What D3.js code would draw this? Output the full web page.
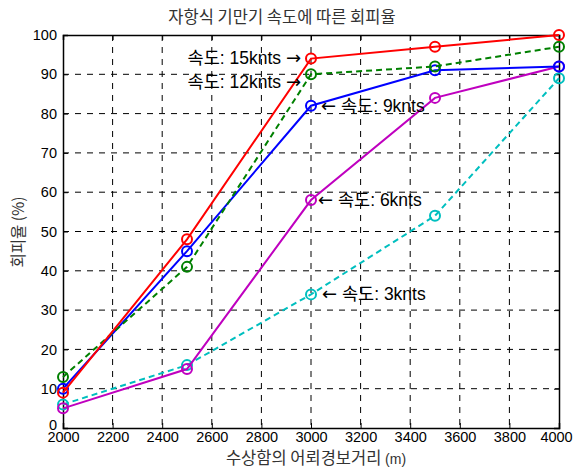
<!DOCTYPE html>
<html><head><meta charset="utf-8">
<script src="https://cdn.jsdelivr.net/npm/d3@7"></script>
<style>body{margin:0;background:#fff}</style>
</head><body><svg id="c" width="574" height="468"></svg>
<script>
const xValues = [2000, 2500, 3000, 3500, 4000];
const s15 = [9, 48, 94, 97, 100];
const s12 = [13, 41, 90, 92, 97];
const s9 = [10, 45, 82, 91, 92];
const s6 = [5, 15, 58, 84, 92];
const s3 = [6, 16, 34, 54, 89];
const xTicks = [2000,2200,2400,2600,2800,3000,3200,3400,3600,3800,4000];
const yTicks = [0,10,20,30,40,50,60,70,80,90,100];
const series = [
  {name:"3knts", vals:s3, color:"#00bfbf", dash:"6,4"},
  {name:"6knts", vals:s6, color:"#bf00bf", dash:null},
  {name:"9knts", vals:s9, color:"#0000ff", dash:null},
  {name:"12knts", vals:s12, color:"#008000", dash:"6,4"},
  {name:"15knts", vals:s15, color:"#ff0000", dash:null}
];
const svg = d3.select("#c");
const L=63,R=559,T=35,B=428;
const x = d3.scaleLinear().domain([2000,4000]).range([L,R]);
const y = d3.scaleLinear().domain([0,100]).range([B,T]);
const font = "'Liberation Sans', Arial, sans-serif";
const kfont = "'Liberation Sans', 'Noto Sans CJK KR', sans-serif";
// grid
const g = svg.append("g");
xTicks.slice(1,-1).forEach(t=>g.append("line").attr("x1",x(t)).attr("x2",x(t)).attr("y1",T).attr("y2",B).attr("stroke","#000").attr("stroke-width",1).attr("stroke-dasharray","6,6"));
yTicks.slice(1,-1).forEach(t=>g.append("line").attr("y1",y(t)).attr("y2",y(t)).attr("x1",L).attr("x2",R).attr("stroke","#000").attr("stroke-width",1).attr("stroke-dasharray","6,6"));
// axes
const xa = svg.append("g").attr("transform",`translate(0,${B})`).call(d3.axisBottom(x).tickValues(xTicks).tickSize(-5).tickPadding(4).tickFormat(d3.format("d")));
const ya = svg.append("g").attr("transform",`translate(${L},0)`).call(d3.axisLeft(y).tickValues(yTicks).tickSize(-5).tickPadding(6));
svg.append("g").attr("transform",`translate(0,${T})`).call(d3.axisTop(x).tickValues(xTicks).tickSize(-5).tickFormat(""));
svg.append("g").attr("transform",`translate(${R},0)`).call(d3.axisRight(y).tickValues(yTicks).tickSize(-5).tickFormat(""));
svg.selectAll(".domain").attr("stroke","#000").attr("stroke-width",1.5);
svg.selectAll(".tick line").attr("stroke","#000");
svg.selectAll(".tick text").attr("font-family",font).attr("font-size","14.5px").attr("fill","#000");
xa.selectAll(".tick text").filter(d=>d===4000).attr("dx","-3px");
ya.selectAll(".tick text").filter(d=>d===0).attr("y",-3);
// lines
const line = d3.line().x((d,i)=>x(xValues[i])).y(d=>y(d));
series.forEach(s=>{
  svg.append("path").datum(s.vals).attr("d",line).attr("fill","none").attr("stroke",s.color).attr("stroke-width",2).attr("stroke-dasharray",s.dash);
  svg.selectAll(null).data(s.vals).enter().append("circle").attr("cx",(d,i)=>x(xValues[i])).attr("cy",d=>y(d)).attr("r",5).attr("fill","none").attr("stroke",s.color).attr("stroke-width",2);
});
// annotations
const ann = [
  {t:"속도: 15knts", arrow:"→", x:3000, y:94, dx:-10, dy:5, a:"end"},
  {t:"속도: 12knts", arrow:"→", x:3000, y:90, dx:-10, dy:14, a:"end"},
  {t:"속도: 9knts", arrow:"←", x:3000, y:82, dx:10, dy:6, a:"start"},
  {t:"속도: 6knts", arrow:"←", x:3000, y:58, dx:7, dy:6, a:"start"},
  {t:"속도: 3knts", arrow:"←", x:3000, y:34, dx:11, dy:6, a:"start"}
];
ann.forEach(a=>{
  const tx = svg.append("text").attr("x",x(a.x)+a.dx).attr("y",y(a.y)+a.dy).attr("text-anchor",a.a).attr("font-family",kfont).attr("font-size","17.5px").attr("fill","#000");
  if(a.a==="end"){
    tx.append("tspan").text(a.t+" ");
    tx.append("tspan").attr("font-family","'DejaVu Sans', sans-serif").attr("font-size","18px").text(a.arrow);
  } else {
    tx.append("tspan").attr("font-family","'DejaVu Sans', sans-serif").attr("font-size","18px").text(a.arrow);
    tx.append("tspan").text(" "+a.t);
  }
});
// title & labels
svg.append("text").attr("x",282).attr("y",23).attr("text-anchor","middle").attr("font-family","'Noto Sans CJK KR', sans-serif").attr("font-size","16.5px").attr("fill","#333").text("자항식 기만기 속도에 따른 회피율");
const xl = svg.append("text").attr("x",316).attr("y",464).attr("text-anchor","middle").attr("font-family","'Noto Sans CJK KR', sans-serif").attr("font-size","16.5px").attr("fill","#333");
xl.append("tspan").text("수상함의 어뢰경보거리 ");
xl.append("tspan").attr("font-family",font).attr("font-size","14px").text("(m)");
svg.append("text").attr("transform","translate(24,232) rotate(-90)").attr("text-anchor","middle").attr("font-family","'Noto Sans CJK KR', sans-serif").attr("font-size","15.5px").attr("fill","#333").text("회피율 (%)");
</script></body></html>
